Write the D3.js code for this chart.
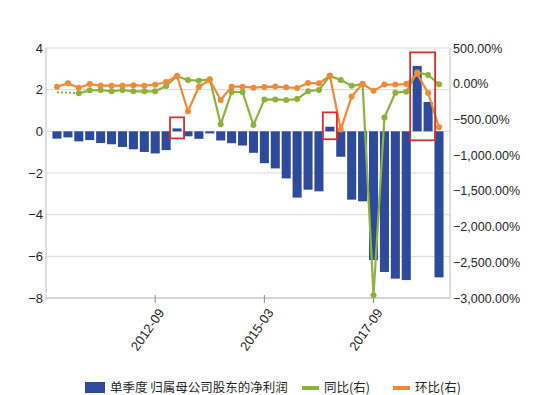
<!DOCTYPE html>
<html>
<head>
<meta charset="utf-8">
<script src="https://cdn.jsdelivr.net/npm/d3@7"></script>
<style>
  body { margin: 0; background: #fff; }
  svg text { font-family: "Liberation Sans", Arial, sans-serif; fill: #262626; }
  .legend text { font-family: "Noto Sans CJK SC", sans-serif; }
</style>
</head>
<body>
<div id="chart"></div>
<script>
// quarters shown on the x axis (one bar each)
const quarters = [
  "2010-06","2010-09","2010-12","2011-03","2011-06","2011-09","2011-12","2012-03","2012-06",
  "2012-09","2012-12","2013-03","2013-06","2013-09","2013-12","2014-03","2014-06","2014-09",
  "2014-12","2015-03","2015-06","2015-09","2015-12","2016-03","2016-06","2016-09","2016-12",
  "2017-03","2017-06","2017-09","2017-12","2018-03","2018-06","2018-09","2018-12","2019-03"
];
// 单季度 归属母公司股东的净利润 (left axis)
const profit = [
  -0.35,-0.29,-0.48,-0.42,-0.56,-0.62,-0.75,-0.86,-0.99,
  -1.06,-0.90, 0.14,-0.24,-0.36,-0.10,-0.44,-0.57,-0.68,
  -1.03,-1.53,-1.78,-2.26,-3.18,-2.80,-2.88, 0.22,-1.22,
  -3.28,-3.36,-6.18,-6.75,-7.07,-7.14, 3.14, 1.41,-7.01
];
// 同比 % (right axis)
const yoy = [
  -121,-125,-135,-93,-88,-107,-88,-107,-107,
  -107,-32,104,52,42,62,-569,-116,-116,
  -578,-222,-220,-228,-215,-105,-88,110,52,
  -30,-5,-2960,-473,-126,-112,160,122,-8
];
// 环比 % (right axis)
const qoq = [
  -42,5,-56,-4,-28,-28,-28,-20,-28,
  -14,24,108,-386,-42,52,-228,-42,-42,
  -56,-45,-40,-50,-60,10,5,112,-640,
  -178,0,-100,-12,-12,-5,138,-130,-610
];
const leftTicks = [4, 2, 0, -2, -4, -6, -8];
const rightTicks = [500, 0, -500, -1000, -1500, -2000, -2500, -3000];
const xTickLabels = ["2012-09", "2015-03", "2017-09"];
// red highlight boxes (quarter span, left-axis extent)
const highlights = [
  { from: "2013-03", to: "2013-03", hi: 0.67, lo: -0.34 },
  { from: "2016-09", to: "2016-09", hi: 0.91, lo: -0.38 },
  { from: "2018-09", to: "2018-12", hi: 3.79, lo: -0.43 }
];
const legendItems = [
  { label: "单季度 归属母公司股东的净利润", type: "bar" },
  { label: "同比(右)", type: "yoy" },
  { label: "环比(右)", type: "qoq" }
];

const W = 554, H = 395;
const plot = { left: 46, right: 450, top: 48, bottom: 298 };
const colors = { bar: "#2d4a9c", yoy: "#8cb43c", qoq: "#f08a36", grid: "#d9d9d9", axis: "#bfbfbf", box: "#d8312a" };

const svg = d3.select("#chart").append("svg")
  .attr("width", W)
  .attr("height", H);

const x = d3.scaleBand()
  .domain(quarters)
  .range([plot.left + 1, plot.right - 1])
  .paddingInner(0.17)
  .paddingOuter(0.5);

const yL = d3.scaleLinear().domain([-8, 4]).range([plot.bottom, plot.top]);
const yR = d3.scaleLinear().domain([-3000, 500]).range([plot.bottom, plot.top]);

const cx = q => x(q) + x.bandwidth() / 2;

// gridlines
svg.append("g").selectAll("line")
  .data(leftTicks)
  .enter().append("line")
  .attr("x1", plot.left).attr("x2", plot.right)
  .attr("y1", d => yL(d)).attr("y2", d => yL(d))
  .attr("stroke", colors.grid);

// axis frame lines (left, right)
svg.append("line").attr("x1", plot.left).attr("x2", plot.left)
  .attr("y1", plot.top).attr("y2", plot.bottom + 2).attr("stroke", colors.axis);
svg.append("line").attr("x1", plot.right).attr("x2", plot.right)
  .attr("y1", plot.top).attr("y2", plot.bottom).attr("stroke", colors.axis);

// left axis
const leftAxis = d3.axisLeft(yL).tickValues(leftTicks).tickSize(0).tickPadding(3).tickFormat(d3.format("d"));
const gL = svg.append("g").attr("transform", `translate(${plot.left},0)`).call(leftAxis);
gL.select(".domain").remove();
gL.selectAll("text").style("font-size", "13px").attr("fill", "#262626");

// right axis
const rightAxis = d3.axisRight(yR).tickValues(rightTicks).tickSize(0).tickPadding(3)
  .tickFormat(d => d3.format(",.2f")(d) + "%");
const gR = svg.append("g").attr("transform", `translate(${plot.right},0)`).call(rightAxis);
gR.select(".domain").remove();
gR.selectAll("text").style("font-size", "12.5px").attr("fill", "#262626");

// bottom axis
const bottomAxis = d3.axisBottom(x).tickValues(xTickLabels).tickSize(5).tickSizeOuter(0);
const gB = svg.append("g").attr("transform", `translate(0,${plot.bottom})`).call(bottomAxis);
gB.select(".domain").attr("d", `M${plot.left},0H${plot.right}`).attr("stroke", colors.axis);
gB.selectAll(".tick line").attr("stroke", "#8c8c8c").attr("y1", -3);
gB.selectAll("text")
  .style("font-size", "13px")
  .attr("fill", "#262626")
  .attr("text-anchor", "end")
  .attr("transform", "translate(6,12) rotate(-55)")
  .attr("x", 0).attr("y", 0).attr("dy", "0.35em");

// bars
svg.append("g").selectAll("rect")
  .data(quarters.map((q, i) => ({ q: q, v: profit[i] })))
  .enter().append("rect")
  .attr("x", d => x(d.q))
  .attr("width", x.bandwidth())
  .attr("y", d => yL(Math.max(0, d.v)))
  .attr("height", d => Math.abs(yL(d.v) - yL(0)))
  .attr("fill", colors.bar);

// lines with markers
function drawSeries(values, color, dashedUpTo) {
  const pts = quarters.map((q, i) => ({ q: q, v: values[i], i: i }));
  const line = d3.line().x(d => cx(d.q)).y(d => yR(d.v));
  if (dashedUpTo > 0) {
    svg.append("path")
      .datum(pts.filter(d => d.i <= dashedUpTo))
      .attr("d", line)
      .attr("fill", "none")
      .attr("stroke", color)
      .attr("stroke-width", 2)
      .attr("stroke-dasharray", "2,2");
  }
  const solid = pts.filter(d => d.i >= dashedUpTo);
  svg.append("path")
    .datum(solid)
    .attr("d", line)
    .attr("fill", "none")
    .attr("stroke", color)
    .attr("stroke-width", 2.2)
    .attr("stroke-linejoin", "round");
  svg.append("g").selectAll("circle")
    .data(solid)
    .enter().append("circle")
    .attr("cx", d => cx(d.q))
    .attr("cy", d => yR(d.v))
    .attr("r", 3)
    .attr("fill", color);
}
drawSeries(yoy, colors.yoy, 2);
drawSeries(qoq, colors.qoq, 0);

// red highlight boxes
svg.append("g").selectAll("rect")
  .data(highlights)
  .enter().append("rect")
  .attr("x", d => x(d.from) - 2.5)
  .attr("width", d => x(d.to) + x.bandwidth() + 2.5 - (x(d.from) - 2.5))
  .attr("y", d => yL(d.hi))
  .attr("height", d => yL(d.lo) - yL(d.hi))
  .attr("fill", "none")
  .attr("stroke", colors.box)
  .attr("stroke-width", 1.8);

// legend along the bottom edge
const legend = svg.append("g").attr("class", "legend");
const legendX = [85, 302, 393];
legendItems.forEach((d, i) => {
  const g = legend.append("g").attr("transform", `translate(${legendX[i]},0)`);
  if (d.type === "bar") {
    g.append("rect").attr("x", 0).attr("y", 382).attr("width", 20).attr("height", 11).attr("fill", colors.bar);
  } else {
    g.append("rect").attr("x", 0).attr("y", 386).attr("width", 17).attr("height", 4).attr("fill", colors[d.type]);
  }
  g.append("text")
    .attr("x", d.type === "bar" ? 25 : 22)
    .attr("y", 392)
    .style("font-size", "12.5px")
    .text(d.label);
});
</script>
</body>
</html>
